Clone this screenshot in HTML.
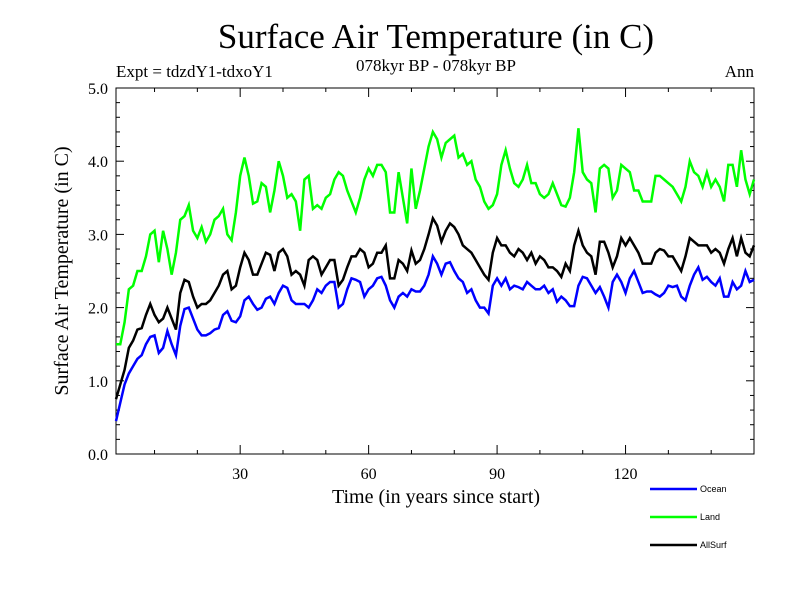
<!DOCTYPE html>
<html><head><meta charset="utf-8"><style>
body{margin:0;background:#fff;}
svg text{font-family:"Liberation Serif",serif;}
</style></head><body>
<svg id="chart" width="800" height="600" xmlns="http://www.w3.org/2000/svg">
<rect width="800" height="600" fill="#fff"/>
<text x="436" y="48" font-size="35" text-anchor="middle">Surface Air Temperature (in C)</text>
<text x="436" y="71" font-size="17" text-anchor="middle">078kyr BP - 078kyr BP</text>
<text x="116" y="77" font-size="17">Expt = tdzdY1-tdxoY1</text>
<text x="754" y="77" font-size="17" text-anchor="end">Ann</text>
<text transform="translate(68,271) rotate(-90)" font-size="20" text-anchor="middle">Surface Air Temperature (in C)</text>
<text x="436" y="503" font-size="20" text-anchor="middle">Time (in years since start)</text>
<g id="axes"></g>
<g id="series"></g>
<g id="legend"></g>
</svg>
<script>
const years = Array.from({length:150},(_,i)=>i+1);
const ocean = [.45,.7,.95,1.1,1.2,1.3,1.35,1.5,1.6,1.62,
1.38,1.45,1.68,1.5,1.35,1.75,1.98,2.0,1.85,1.7,
1.62,1.62,1.65,1.7,1.72,1.9,1.95,1.82,1.8,1.88,
2.1,2.15,2.05,1.97,2.0,2.12,2.15,2.05,2.2,2.3,
2.27,2.1,2.05,2.05,2.05,2.0,2.1,2.25,2.2,2.3,
2.35,2.35,2.0,2.05,2.25,2.4,2.38,2.35,2.15,2.25,
2.3,2.4,2.42,2.3,2.1,2.0,2.15,2.2,2.15,2.25,
2.22,2.22,2.3,2.45,2.7,2.6,2.45,2.6,2.62,2.5,
2.4,2.35,2.2,2.25,2.1,2.0,2.0,1.92,2.3,2.4,
2.3,2.4,2.25,2.3,2.28,2.25,2.35,2.3,2.25,2.25,
2.3,2.2,2.25,2.08,2.15,2.1,2.02,2.02,2.3,2.42,
2.4,2.3,2.2,2.28,2.15,2.0,2.35,2.45,2.35,2.2,
2.4,2.5,2.35,2.2,2.22,2.22,2.18,2.15,2.2,2.3,
2.28,2.3,2.15,2.1,2.3,2.45,2.55,2.38,2.42,2.35,
2.3,2.4,2.15,2.15,2.35,2.25,2.3,2.5,2.35,2.38];
const land = [1.5,1.5,1.8,2.25,2.3,2.5,2.5,2.7,3.0,3.05,
2.62,3.05,2.8,2.45,2.75,3.2,3.25,3.4,3.05,2.95,
3.1,2.9,3.0,3.2,3.25,3.35,3.0,2.92,3.3,3.8,
4.05,3.8,3.42,3.45,3.7,3.65,3.3,3.6,4.0,3.8,
3.5,3.55,3.45,3.05,3.75,3.8,3.35,3.4,3.35,3.5,
3.55,3.75,3.85,3.8,3.6,3.45,3.3,3.5,3.75,3.9,
3.8,3.95,3.95,3.85,3.3,3.3,3.85,3.5,3.15,3.9,
3.35,3.6,3.9,4.2,4.4,4.3,4.05,4.25,4.3,4.35,
4.05,4.1,3.95,4.0,3.75,3.65,3.45,3.35,3.4,3.55,
3.95,4.15,3.9,3.7,3.65,3.75,3.95,3.7,3.7,3.55,
3.5,3.55,3.7,3.55,3.4,3.38,3.5,3.85,4.45,3.85,
3.75,3.7,3.3,3.9,3.95,3.9,3.5,3.6,3.95,3.9,
3.85,3.6,3.6,3.45,3.45,3.45,3.8,3.8,3.75,3.7,
3.65,3.55,3.45,3.65,4.0,3.85,3.8,3.65,3.85,3.65,
3.75,3.65,3.45,3.95,3.95,3.65,4.15,3.75,3.55,3.75];
const allsurf = [.75,.95,1.15,1.45,1.55,1.7,1.72,1.9,2.05,1.9,
1.8,1.85,2.0,1.85,1.7,2.2,2.38,2.35,2.15,2.0,
2.05,2.05,2.1,2.2,2.3,2.45,2.5,2.25,2.3,2.55,
2.75,2.65,2.45,2.45,2.6,2.75,2.72,2.5,2.75,2.8,
2.7,2.45,2.5,2.45,2.3,2.65,2.7,2.65,2.45,2.55,
2.65,2.65,2.3,2.38,2.55,2.7,2.7,2.8,2.75,2.55,
2.6,2.75,2.75,2.85,2.4,2.4,2.65,2.6,2.5,2.78,
2.6,2.65,2.8,3.0,3.22,3.12,2.9,3.05,3.15,3.1,
3.0,2.85,2.8,2.75,2.65,2.55,2.45,2.38,2.75,2.95,
2.85,2.85,2.75,2.7,2.8,2.75,2.65,2.75,2.6,2.7,
2.65,2.55,2.55,2.5,2.42,2.6,2.5,2.85,3.05,2.85,
2.75,2.7,2.45,2.9,2.9,2.75,2.55,2.7,2.95,2.85,
2.95,2.85,2.75,2.6,2.6,2.6,2.75,2.8,2.78,2.7,
2.7,2.6,2.5,2.7,2.95,2.9,2.85,2.85,2.85,2.75,
2.8,2.75,2.6,2.8,2.95,2.7,2.95,2.75,2.7,2.85];
const xTicks = [30,60,90,120];
const xMinorTicks = [10,20,40,50,70,80,100,110,130,140];
const yTicks = [0,1,2,3,4,5];
const yTickLabels = ["0.0","1.0","2.0","3.0","4.0","5.0"];
const seriesNames = ["Ocean","Land","AllSurf"];
const seriesColors = ["#0000ff","#00ff00","#000000"];

const L=116,R=754,T=88,B=454;
const xs=v=>L+(v-1)*(R-L)/149;
const ys=v=>B-v*(B-T)/5;
const NS="http://www.w3.org/2000/svg";
function mk(tag,attrs,parent){const e=document.createElementNS(NS,tag);for(const k in attrs)e.setAttribute(k,attrs[k]);parent.appendChild(e);return e;}
const axes=document.getElementById('axes');
const frame=mk('rect',{x:L,y:T,width:R-L,height:B-T,fill:'none',stroke:'#000','stroke-width':1},axes);


for(let i=0;i<=25;i++){const v=i*0.2;const y=ys(v);const len=(i%5===0)?8:4;
 const t1=mk('line',{x1:L,x2:L+len,y1:y,y2:y,stroke:'#000'},axes);
 
 
 const t2=mk('line',{x1:R,x2:R-len,y1:y,y2:y,stroke:'#000'},axes);
 
 }
yTicks.forEach((v,i)=>{const t=mk('text',{x:L-8,y:ys(v)+6,'font-size':16,'text-anchor':'end'},axes);t.textContent=yTickLabels[i];
 
 });
xMinorTicks.forEach(v=>{const x=xs(v);
 const a=mk('line',{x1:x,x2:x,y1:B,y2:B-4,stroke:'#000'},axes);
 
 
 const b=mk('line',{x1:x,x2:x,y1:T,y2:T+4,stroke:'#000'},axes);
 
 });
xTicks.forEach(v=>{const x=xs(v);
 const a=mk('line',{x1:x,x2:x,y1:B,y2:B-9,stroke:'#000'},axes);
 
 
 const b=mk('line',{x1:x,x2:x,y1:T,y2:T+9,stroke:'#000'},axes);
 
 
 const t=mk('text',{x:x,y:B+25,'font-size':16,'text-anchor':'middle'},axes);t.textContent=v;
 
 });
const sg=document.getElementById('series');
[ocean,land,allsurf].forEach((d,si)=>{
 const p=mk('polyline',{points:d.map((v,i)=>xs(years[i])+','+ys(v)).join(' '),fill:'none',stroke:seriesColors[si],'stroke-width':2.5,'stroke-linejoin':'miter'},sg);
 
 });
const lg=document.getElementById('legend');
seriesNames.forEach((n,i)=>{const y=489+i*28;
 const l=mk('line',{x1:650,x2:697,y1:y,y2:y,stroke:seriesColors[i],'stroke-width':2.5},lg);
 
 
 const t=mk('text',{x:700,y:y+3,'font-size':9,style:'font-family:"Liberation Sans",sans-serif'},lg);t.textContent=n;
 
 });
</script>
</body></html>
